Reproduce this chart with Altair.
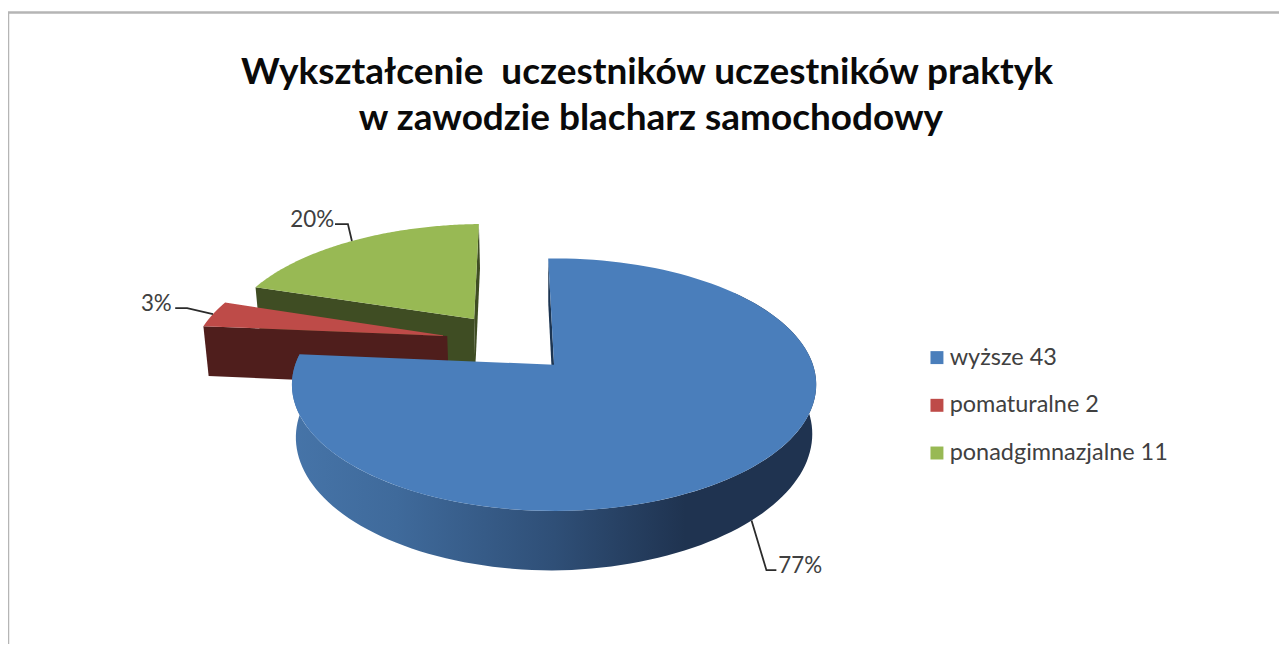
import numpy as np
import pandas as pd
import altair as alt

categories = ["wyższe", "pomaturalne", "ponadgimnazjalne"]
values = [43, 2, 11]
percent_labels = ["77%", "3%", "20%"]
top_colors = ["#4a7ebb", "#be4b48", "#98b954"]
face_colors = ["#1c3552", "#4f1e1c", "#3f4d23"]
title_lines = ["Wykształcenie\u00a0 uczestników uczestników praktyk", "w zawodzie blacharz samochodowy"]

# 3-D pie model: perspective view of a tilted disc
CX, CY, A, B, K = 557.5, 365.0, 260.5, 123.9, 0.1575
START = -1.5
EXPLODE = [(0.0, 0.0), (-0.4285, -0.243), (-0.328, -0.394)]
LEADERS = [[(15, 50), (25, 50)], [(-26, -6), (-38, -6)], [(-4, -17), (-17, -17)]]
LABEL_OFF = [(49, 46), (-57, -10), (-40, -21)]


def project(u, v):
    w = 1 - K * v
    return CX + A * u / w, CY + B * v / w


def lower(u, v):
    x, y = project(u, v)
    w = 1 - K * v
    return CX + 0.985 * (x - CX), y + 52.1 + 6.63 * (v / w) - 3.5 * max(u / w, 0)


def rim(theta, off):
    t = np.radians(theta)
    return off[0] + np.sin(t), off[1] - np.cos(t)


total = sum(values)
angles = np.cumsum([0] + values) / total * 360 + START


def poly(points):
    return pd.DataFrame({"x": [p[0] for p in points], "y": [p[1] for p in points], "o": range(len(points))})


def top_surface(i):
    off = EXPLODE[i]
    ts = np.linspace(angles[i], angles[i + 1], 120)
    pts = [project(*off)] + [project(*rim(t, off)) for t in ts]
    df = poly(pts)
    df["cat"] = f"{categories[i]} {values[i]}"
    return df


def radial_face(i, theta):
    off = EXPLODE[i]
    u, v = rim(theta, off)
    return poly([project(*off), project(u, v), lower(u, v), lower(*off)])


def wall(i, t0, t1):
    off = EXPLODE[i]
    ts = np.linspace(t0, t1, 120)
    return poly([project(*rim(t, off)) for t in ts] + [lower(*rim(t, off)) for t in ts[::-1]])


xs = alt.X("x:Q", scale=alt.Scale(domain=[8, 1287], nice=False, zero=False), axis=None)
ys = alt.Y("y:Q", scale=alt.Scale(domain=[646, 8], nice=False, zero=False), axis=None)
legend_names = [f"{c} {v}" for c, v in zip(categories, values)]


def face_layer(df, fill):
    return alt.Chart(df).mark_line(fill=fill, stroke=None, strokeWidth=0, interpolate="linear").encode(
        x=xs, y=ys, order="o:Q")


def top_layer(i, show_legend=False):
    legend = alt.Legend(orient="none", legendX=923, legendY=338, title=None, symbolType="square",
                        symbolSize=170, symbolStrokeWidth=0, labelFont="Lato", labelFontSize=23.6,
                        labelColor="#404040", rowPadding=23, labelOffset=1, labelLimit=400) if show_legend else None
    fill = alt.Fill("cat:N", scale=alt.Scale(domain=legend_names, range=top_colors), sort=None, legend=legend)
    return alt.Chart(top_surface(i)).mark_line(strokeWidth=0, interpolate="linear").encode(
        x=xs, y=ys, order="o:Q", fill=fill)


wall_gradient = alt.Gradient(gradient="linear", x1=0, x2=1, y1=0, y2=0, stops=[
    alt.GradientStop(color="#4674a8", offset=0),
    alt.GradientStop(color="#3f6a9b", offset=0.2),
    alt.GradientStop(color="#2f4f77", offset=0.5),
    alt.GradientStop(color="#1f3350", offset=0.75),
    alt.GradientStop(color="#1f3350", offset=1),
])

layers = [
    face_layer(radial_face(2, angles[2]), face_colors[2]),
    face_layer(radial_face(2, angles[3]), face_colors[2]),
    top_layer(2, True),
    face_layer(radial_face(1, angles[1]), face_colors[1]),
    top_layer(1),
    face_layer(radial_face(0, angles[0]), face_colors[0]),
    face_layer(wall(0, 50, angles[1]), wall_gradient),
    top_layer(0),
]

# leader lines and percentage labels, anchored at each slice's mid angle
lead_rows, label_rows = [], []
for i in range(3):
    mid = (angles[i] + angles[i + 1]) / 2
    u, v = rim(mid, EXPLODE[i])
    sx, sy = lower(u, v) if i == 0 else project(u, v)
    pts = [(sx, sy)] + [(sx + dx, sy + dy) for dx, dy in LEADERS[i]]
    lead_rows += [{"x": p[0], "y": p[1], "o": k, "g": i} for k, p in enumerate(pts)]
    label_rows.append({"x": sx + LABEL_OFF[i][0], "y": sy + LABEL_OFF[i][1], "t": percent_labels[i]})

leaders = alt.Chart(pd.DataFrame(lead_rows)).mark_line(color="#2b2b2b", strokeWidth=1.8).encode(
    x=xs, y=ys, order="o:Q", detail="g:N")
labels = alt.Chart(pd.DataFrame(label_rows)).mark_text(font="Lato", fontSize=22.5, color="#404040").encode(
    x=xs, y=ys, text="t:N")

title_df = pd.DataFrame({"x": [651, 655], "y": [71, 118], "t": title_lines})
title = alt.Chart(title_df).mark_text(font="Lato", fontWeight="bold", fontSize=37.2, color="#0a0a0a").encode(
    x=xs, y=ys, text="t:N")

border_top = alt.Chart(pd.DataFrame({"x": [8], "x2": [1287], "y": [10.5]})).mark_rule(
    color="#b5b5b5", strokeWidth=2.5).encode(x=xs, x2="x2:Q", y=ys)
border_left = alt.Chart(pd.DataFrame({"x": [8], "y": [10], "y2": [646]})).mark_rule(
    color="#b5b5b5", strokeWidth=2.5).encode(x=xs, y=ys, y2="y2:Q")

chart = alt.layer(border_top, border_left, *layers, leaders, labels, title).resolve_scale(
    fill="shared").properties(
    width=1279, height=638, padding=0, autosize=alt.AutoSizeParams(type="none"),
    background="#ffffff").configure_view(stroke=None)

chart.save("out.html", embed_options={"renderer": "svg", "actions": False})
